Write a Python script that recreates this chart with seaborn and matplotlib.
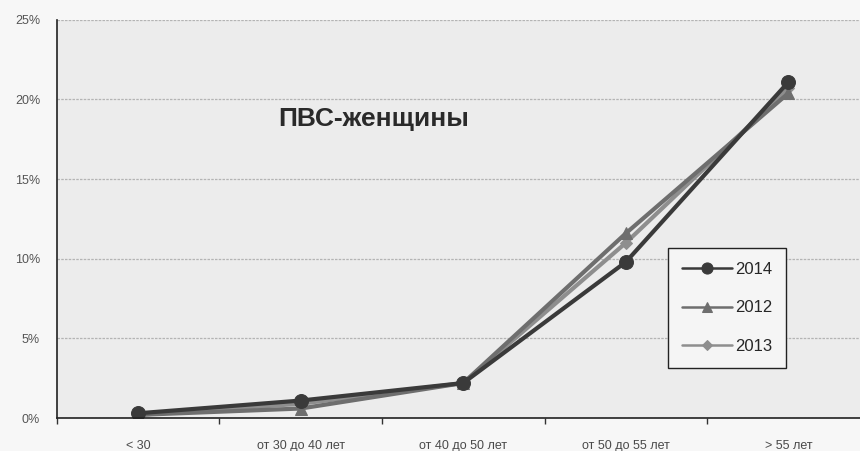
import pandas as pd
import matplotlib.pyplot as plt
import seaborn as sns

sns.set_theme(style="white")
plt.rcParams["font.family"] = ["Liberation Sans", "DejaVu Sans"]

categories = ["< 30", "от 30 до 40 лет", "от 40 до 50 лет", "от 50 до 55 лет", "> 55 лет"]
years = ["2014", "2012", "2013"]
v2014 = [0.3, 1.1, 2.2, 9.8, 21.1]
v2012 = [0.2, 0.6, 2.2, 11.6, 20.4]
v2013 = [0.2, 0.9, 2.2, 11.0, 20.7]

rows = []
for year, vals in zip(years, [v2014, v2012, v2013]):
    for c, v in zip(categories, vals):
        rows.append({"cat": c, "val": v, "year": year})
df = pd.DataFrame(rows)

colors = {"2014": "#3a3a3a", "2012": "#6e6e6e", "2013": "#8e8e8e"}
markers = {"2014": "o", "2012": "^", "2013": "D"}
msize = {"2014": 10, "2012": 9, "2013": 6}

fig = plt.figure(figsize=(8.6, 4.51), dpi=100, facecolor="#f7f7f7")
ax = fig.add_axes([0.066, 0.073, 0.934, 0.883])
ax.set_facecolor("#ececec")

# 2014 last so it sits on top
for year in ["2013", "2012", "2014"]:
    sub = df[df["year"] == year]
    sns.lineplot(data=sub, x="cat", y="val", color=colors[year], marker=markers[year],
                 markersize=msize[year], markeredgecolor=colors[year], linewidth=3,
                 label=year, ax=ax, sort=False)

ax.set_xlim(-0.5, 4.44)
ax.set_ylim(0, 25)
ax.set_yticks([0, 5, 10, 15, 20, 25])
ax.set_yticklabels([f"{t}%" for t in [0, 5, 10, 15, 20, 25]])
ax.set_xticks(range(len(categories)))
ax.set_xticklabels(categories)
ax.set_xticks([i + 0.5 for i in range(-1, 4)], minor=True)
ax.tick_params(axis="x", which="major", length=0, pad=16, labelsize=9, colors="#4a4a4a")
ax.tick_params(axis="x", which="minor", length=4, color="#333333", direction="out")
ax.tick_params(axis="y", length=3, color="#333333", direction="out", labelsize=9, pad=9)
ax.tick_params(axis="y", labelcolor="#555555")
ax.xaxis.set_tick_params(which="both", bottom=True)
ax.set_xlabel("")
ax.set_ylabel("")
ax.yaxis.grid(True, color="#b4b4b4", linewidth=0.9, linestyle=(0, (2, 1)))
ax.set_axisbelow(True)
for s in ["top", "right"]:
    ax.spines[s].set_visible(False)
for s in ["left", "bottom"]:
    ax.spines[s].set_color("#222222")
    ax.spines[s].set_linewidth(1.2)

fig.text(278 / 860, 1 - 126 / 451, "ПВС-женщины", fontsize=19, fontweight="bold",
         color="#2a2a2a", va="baseline")

handles, labels = ax.get_legend_handles_labels()
order = [labels.index(y) for y in years]
leg = ax.legend([handles[i] for i in order], [labels[i] for i in order],
                loc="upper left", bbox_to_anchor=(668 / 860, 1 - 248 / 451),
                bbox_transform=fig.transFigure, frameon=True, fancybox=False,
                fontsize=12, labelspacing=1.4, handlelength=3.0, handletextpad=0.15,
                borderpad=0.85, borderaxespad=0, markerscale=0.8, framealpha=1)
leg.get_frame().set_edgecolor("#222222")
leg.get_frame().set_facecolor("#f5f5f5")
leg.get_frame().set_linewidth(1.0)
for line in leg.get_lines():
    line.set_linewidth(1.8)

fig.savefig("out.png", dpi=100, facecolor=fig.get_facecolor())
